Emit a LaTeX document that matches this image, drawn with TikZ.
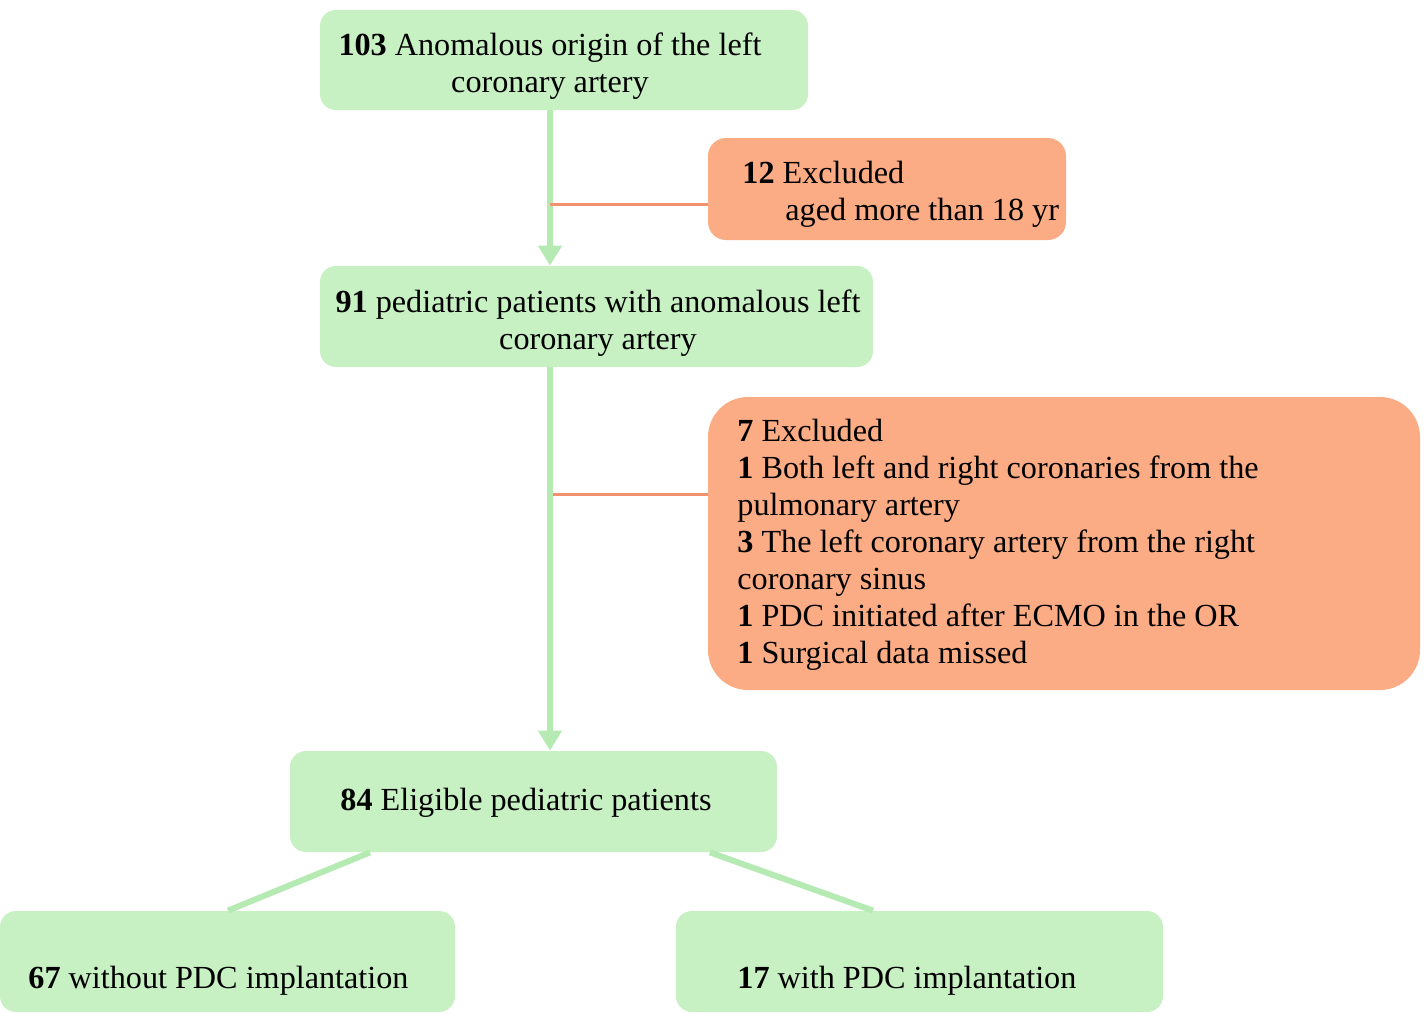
\documentclass[tikz,border=0pt]{standalone}
\usepackage{fontspec}
\setmainfont{Liberation Serif}
\usetikzlibrary{arrows.meta}
\definecolor{boxgreen}{HTML}{C7F0C3}
\definecolor{linegreen}{HTML}{B6EAB3}
\definecolor{boxorange}{HTML}{FBAC84}
\definecolor{lineorange}{HTML}{F3926E}
\tikzset{
  gbox/.style={fill=boxgreen, rounded corners=8pt, inner sep=0pt},
  obox/.style={fill=boxorange, rounded corners=9pt, inner sep=0pt},
  txt/.style={font=\fontsize{16.1}{18.5}\selectfont, inner sep=0pt},
  trunkline/.style={linegreen, line width=3pt},
  exline/.style={lineorange, line width=1.5pt}
}
\begin{document}
\begin{tikzpicture}[x=0.5pt,y=-0.5pt]
    \useasboundingbox (0,0) rectangle (1425,1013);
    % boxes
    \node[gbox, minimum width=244pt, minimum height=50pt] (n103) at (564,60) {};
    \node[obox, minimum width=179pt, minimum height=51pt] (ex12) at (887,189) {};
    \node[gbox, minimum width=276.5pt, minimum height=50.5pt] (n91) at (596.5,316.5) {};
    \node[obox, rounded corners=20pt, minimum width=356pt, minimum height=146.5pt] (ex7) at (1064,543.5) {};
    \node[gbox, minimum width=243.5pt, minimum height=50.5pt] (n84) at (533.5,801.5) {};
    \node[gbox, minimum width=227.5pt, minimum height=50.5pt] (n67) at (227.5,961.5) {};
    \node[gbox, minimum width=243.5pt, minimum height=50.5pt] (n17) at (919.5,961.5) {};
    % texts
    \node[txt, anchor=base] (t103a) at (550,55) {\textbf{103} Anomalous origin of the left};
    \node[txt, anchor=base] (t103b) at (550,92) {coronary artery};
    \node[txt, anchor=base west] (t12a) at (742,183) {\textbf{12} Excluded};
    \node[txt, anchor=base west] (t12b) at (785,220) {aged more than 18 yr};
    \node[txt, anchor=base] (t91a) at (598,312) {\textbf{91} pediatric patients with anomalous left};
    \node[txt, anchor=base] (t91b) at (598,349) {coronary artery};
    % last line of a multi-line node sits on the base anchor
    \node[txt, anchor=base west, align=left] (t7) at (737,663) {\textbf{7} Excluded\\
      \textbf{1} Both left and right coronaries from the\\
      pulmonary artery\\
      \textbf{3} The left coronary artery from the right\\
      coronary sinus\\
      \textbf{1} PDC initiated after ECMO in the OR\\
      \textbf{1} Surgical data missed};
    \node[txt, anchor=base west] (t84) at (340,810) {\textbf{84} Eligible pediatric patients};
    \node[txt, anchor=base west] (t67) at (28,988) {\textbf{67} without PDC implantation};
    \node[txt, anchor=base west] (t17) at (737,988) {\textbf{17} with PDC implantation};
    % connectors
    \coordinate (trunk) at (550,0);
    \draw[trunkline, -{Triangle[width=11.5pt,length=10pt]}] (n103.south -| trunk) -- (n91.north -| trunk);
    \draw[trunkline, -{Triangle[width=11.5pt,length=10pt]}] (n91.south -| trunk) -- (n84.north -| trunk);
    \draw[exline] ([yshift=-7.5pt]ex12.west -| trunk) -- ([yshift=-7.5pt]ex12.west);
    \draw[exline] ([yshift=24.75pt]ex7.west -| 553,0) -- ([yshift=24.75pt]ex7.west);
    \draw[trunkline] (n84.south -| 370,0) -- (n67.north -| 228,0);
    \draw[trunkline] (n84.south -| 710,0) -- (n17.north -| 873,0);
\end{tikzpicture}
\end{document}
